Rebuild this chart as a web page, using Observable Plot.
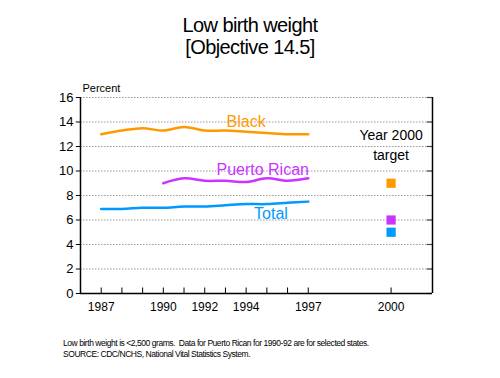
<!DOCTYPE html>
<html><head><meta charset="utf-8">
<script src="https://cdn.jsdelivr.net/npm/d3@7"></script>
<script src="https://cdn.jsdelivr.net/npm/@observablehq/plot@0.6"></script>
<style>
body{margin:0;background:#fff;font-family:"Liberation Sans",Arial,sans-serif;}
#wrap{width:500px;height:378px;position:relative;overflow:hidden;}
.t{position:absolute;left:0;width:500px;text-align:center;font-size:20px;color:#000;letter-spacing:-0.6px;line-height:22px;}
#chart{position:absolute;left:0;top:60px;}
.foot{position:absolute;left:63px;top:338px;font-size:8.5px;line-height:11px;color:#000;letter-spacing:-0.45px;}
</style></head>
<body><div id="wrap">
<div class="t" style="top:14px">Low birth weight</div>
<div class="t" style="top:36px">[Objective 14.5]</div>
<div id="chart"></div>
<div class="foot">Low birth weight is &lt;2,500 grams.&nbsp; Data for Puerto Rican for 1990-92 are for selected states.<br>SOURCE: CDC/NCHS, National Vital Statistics System.</div>
</div>
<script>
const years = [1987,1988,1989,1990,1991,1992,1993,1994,1995,1996,1997];
const black = [13.0,13.3,13.5,13.3,13.6,13.3,13.3,13.2,13.1,13.0,13.0];
const total = [6.9,6.9,7.0,7.0,7.1,7.1,7.2,7.3,7.3,7.4,7.5];
const prYears = [1990,1991,1992,1993,1994,1995,1996,1997];
const puertoRican = [9.0,9.4,9.2,9.2,9.1,9.4,9.2,9.4];
const targetYear = 2000;
const targetGroups = ["Black","Puerto Rican","Total"];
const targetValues = [9.0,6.0,5.0];
const labelTicks = [1987,1990,1992,1994,1997,2000];
const yTicks = [0,2,4,6,8,10,12,14,16];
const colors = {"Black":"#FF9900","Puerto Rican":"#CC33FF","Total":"#0099FF"};

// axis break: 2000 is drawn one year-slot further right
const pos = y => y === targetYear ? targetYear + 1 : y;
const xmin = 1986, xmax = 2003;

const lineData = [
  ...years.map((y,i)=>({year:y, value:black[i], group:"Black"})),
  ...prYears.map((y,i)=>({year:y, value:puertoRican[i], group:"Puerto Rican"})),
  ...years.map((y,i)=>({year:y, value:total[i], group:"Total"}))
];
const targets = targetGroups.map((g,i)=>({year:targetYear, value:targetValues[i], group:g}));
const labels = [
  {group:"Black", year:1994.0, value:14.05},
  {group:"Puerto Rican", year:1994.8, value:10.1},
  {group:"Total", year:1995.2, value:6.5}
];
const minorTicks = [...years, targetYear];

const plot = Plot.plot({
  width: 500, height: 270,
  marginLeft: 80, marginRight: 68, marginTop: 37, marginBottom: 37,
  style: {fontFamily: '"Liberation Sans", Arial, sans-serif', color: "#000", background: "transparent"},
  x: {type: "linear", domain: [xmin, xmax]},
  y: {domain: [0, 16]},
  marks: [
    Plot.ruleY(yTicks.filter(d=>d>0), {y: d=>d, x1: xmin, x2: xmax, stroke: "#999", strokeDasharray: "1.5,1.5", strokeWidth: 1}),
    Plot.ruleY(yTicks, {y: d=>d, x1: xmin - 0.2, x2: xmin, stroke: "#000", strokeWidth: 1}),
    Plot.ruleY(yTicks, {y: d=>d, x1: xmax - 0.25, x2: xmax, stroke: "#444", strokeWidth: 1.2}),
    Plot.ruleX(minorTicks, {x: d=>pos(d), y1: 0, y2: 0.45, stroke: "#000", strokeWidth: 1}),
    Plot.ruleX([xmin, xmax], {y1: 0, y2: 16, stroke: "#000", strokeWidth: 1.5}),
    Plot.ruleY([0], {x1: xmin, x2: xmax, stroke: "#000", strokeWidth: 1.5}),
    Plot.axisY({ticks: yTicks, tickSize: 0, tickPadding: 7, fontSize: 13, label: null}),
    Plot.axisX({ticks: labelTicks.map(pos), tickSize: 0, tickPadding: 9, fontSize: 12, label: null,
      tickFormat: d => d === pos(targetYear) ? String(targetYear) : String(d)}),
    Plot.text(["Percent"], {frameAnchor: "top-left", dx: 2, dy: -13, fontSize: 11, textAnchor: "start"}),
    Plot.line(lineData, {x: d=>pos(d.year), y: "value", z: "group", stroke: d=>colors[d.group], strokeWidth: 2.5, curve: "catmull-rom"}),
    Plot.dot(targets, {x: d=>pos(d.year), y: "value", symbol: "square", r: 5.2, fill: d=>colors[d.group], stroke: null}),
    Plot.text(labels, {x: "year", y: "value", text: "group", fill: d=>colors[d.group], fontSize: 16}),
    Plot.text(["Year 2000", "target"], {x: pos(targetYear), y: (d,i)=> i===0 ? 12.9 : 11.3, text: d=>d, fontSize: 14, fill: "#000"})
  ]
});
document.getElementById("chart").appendChild(plot);
</script>
</body></html>
